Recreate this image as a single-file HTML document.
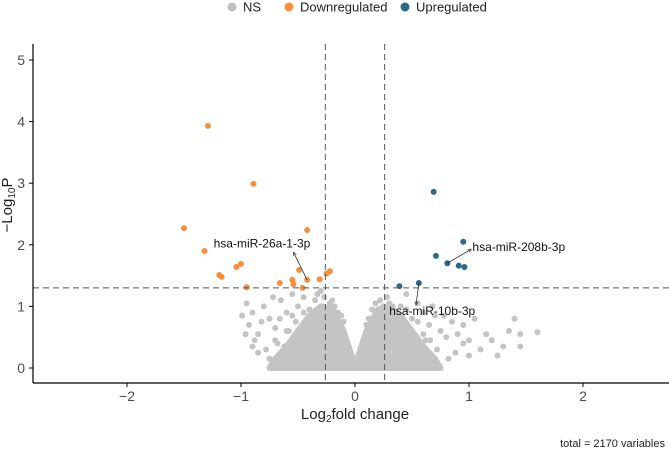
<!DOCTYPE html>
<html><head><meta charset="utf-8"><style>
html,body{margin:0;padding:0;background:#fff;}
svg{display:block;font-family:"Liberation Sans",Arial,sans-serif;}
</style></head><body>
<svg id="chart" width="669" height="452" viewBox="0 0 669 452">
<defs><marker id="ah" viewBox="0 0 10 10" refX="9" refY="5" markerWidth="5" markerHeight="5" orient="auto"><path d="M0,1 L9,5 L0,9" fill="none" stroke="#333" stroke-width="1.5"/></marker></defs>
<g id="legend">
 <g><circle cx="232" cy="7" r="4.5" fill="#c0c0c0"/><text x="243" y="11.5" font-size="13" fill="#222">NS</text></g>
 <g><circle cx="289" cy="7" r="4.5" fill="#f7903e"/><text x="300" y="11.5" font-size="13" fill="#222">Downregulated</text></g>
 <g><circle cx="405" cy="7" r="4.5" fill="#2b6a8a"/><text x="416" y="11.5" font-size="13" fill="#222">Upregulated</text></g>
</g>
<g id="density"></g>
<g id="points"></g>
<g id="refs"></g>
<g id="axes"></g>
<g id="labels"></g>
<text x="12" y="205" font-size="15" fill="#222" text-anchor="middle" transform="rotate(-90 12 205)">−Log<tspan font-size="10" dy="3">10</tspan><tspan dy="-3">P</tspan></text>
<text x="355" y="419" font-size="15" fill="#222" text-anchor="middle">Log<tspan font-size="10" dy="3">2</tspan><tspan dy="-3">fold change</tspan></text>
<text x="665" y="447" font-size="11" fill="#222" text-anchor="end">total = 2170 variables</text>
</svg>
<script>
const xTicks=[-2,-1,0,1,2];
const yTicks=[0,1,2,3,4,5];
const fcCut=0.26, pCut=1.3;
const downX=[-1.29,-0.89,-1.50,-0.42,-1.32,-1.00,-1.04,-1.19,-1.17,-0.49,-0.42,-0.66,-0.55,-0.54,-0.46,-0.95,-0.31,-0.25,-0.22];
const downY=[3.93,2.99,2.27,2.24,1.90,1.69,1.64,1.51,1.48,1.59,1.43,1.38,1.43,1.36,1.30,1.31,1.44,1.53,1.57];
const upX=[0.69,0.95,0.71,0.81,0.91,0.96,0.39,0.56];
const upY=[2.86,2.05,1.82,1.70,1.66,1.64,1.33,1.38];
const nsX=[-0.95,-0.9,-0.93,-0.85,-0.8,-0.75,-0.7,-0.78,-0.65,-0.6,-0.55,-0.5,-0.45,-0.4,-0.35,-0.3,-0.28,-0.85,-0.7,-0.62,-0.88,-0.72,-0.58,-0.66,-0.52,-0.48,-0.42,-0.38,-0.82,-0.96,-0.99,-0.9,-0.75,
0.3,0.35,0.4,0.45,0.5,0.55,0.6,0.65,0.7,0.75,0.8,0.85,0.9,0.95,1.0,1.05,1.1,1.15,1.2,1.25,1.3,1.4,1.45,1.6,1.45,1.35,0.42,0.52,0.62,0.68,0.72,0.88,0.95,1.0,0.58,0.48,0.78,0.82,0.38,0.44,
-0.25,-0.2,-0.15,0.15,0.2,0.25,-0.1,0.1,-0.33,-0.27,-0.22,-0.18,0.18,0.22,0.28,0.33,-0.45,-0.55,0.45,0.55,-0.6,0.6,-0.68,0.66,-0.12,0.12];
const nsY=[1.05,0.9,0.7,0.55,1.0,0.8,0.45,0.3,1.1,0.9,1.2,1.0,1.15,0.95,1.1,1.25,1.0,0.25,0.65,0.35,0.45,1.15,0.6,0.8,0.75,0.6,0.8,0.6,0.75,0.55,0.85,0.35,0.15,
1.05,0.9,1.0,1.2,0.8,1.05,0.9,0.7,0.85,0.6,0.5,0.75,0.55,0.4,0.45,0.8,0.3,0.55,0.45,0.2,0.35,0.8,0.55,0.58,0.35,0.6,0.65,0.5,0.45,1.0,0.3,0.25,0.7,0.2,0.3,0.35,0.85,0.15,0.75,0.45,
0.95,1.1,0.9,0.95,0.8,1.0,0.75,0.7,1.2,1.15,1.05,1.0,1.05,1.1,1.15,1.0,0.9,0.85,0.95,0.75,0.6,0.55,0.4,0.45,0.85,0.8];
const denseX=[-0.75,-0.7,-0.6,-0.5,-0.4,-0.3,-0.2,-0.1,-0.03,0,0.03,0.1,0.2,0.3,0.4,0.5,0.6,0.7,0.75];
const denseY=[0,0.15,0.35,0.6,0.85,1.0,0.95,0.6,0.2,0.08,0.2,0.6,0.95,1.0,0.85,0.6,0.35,0.15,0];
const labelText=["hsa-miR-26a-1-3p","hsa-miR-208b-3p","hsa-miR-10b-3p"];
const labelPtX=[-0.42,0.81,0.56], labelPtY=[1.43,1.70,1.38];
const arrowTipX=[-0.54,1.02,0.535], arrowTipY=[1.88,1.93,1.02];
const labelX=[-1.24,1.03,0.30], labelY=[1.96,1.90,0.86];

const X=v=>355+v*114, Y=v=>368-v*61.6;
const NS="http://www.w3.org/2000/svg";
function mk(t,a,p){const e=document.createElementNS(NS,t);for(const k in a)e.setAttribute(k,a[k]);p.appendChild(e);return e;}
const gd=document.getElementById('density'),gp=document.getElementById('points'),gr=document.getElementById('refs'),ga=document.getElementById('axes'),gl=document.getElementById('labels');
let d=denseX.map((v,i)=>(i?'L':'M')+X(v)+','+Y(denseY[i])).join(' ')+'Z';
const dp=mk('path',{d:d,fill:'#c4c4c4',stroke:'#c4c4c4','stroke-width':6,'stroke-linejoin':'round'},gd);


nsX.forEach((v,i)=>{const c=mk('circle',{cx:X(v),cy:Y(nsY[i]),r:3,fill:'#c4c4c4'},gp);

});
downX.forEach((v,i)=>{const c=mk('circle',{cx:X(v),cy:Y(downY[i]),r:3,fill:'#f7903e'},gp);

});
upX.forEach((v,i)=>{const c=mk('circle',{cx:X(v),cy:Y(upY[i]),r:3,fill:'#2b6a8a'},gp);

});
[-fcCut,fcCut].forEach(v=>{const l=mk('line',{x1:X(v),x2:X(v),y1:44,y2:383,stroke:'#555','stroke-dasharray':'6,4','stroke-width':1},gr);

});
const hl=mk('line',{x1:33,x2:669,y1:Y(pCut),y2:Y(pCut),stroke:'#555','stroke-dasharray':'6,4','stroke-width':1},gr);


const ya=mk('line',{x1:33,x2:33,y1:44,y2:383,stroke:'#000','stroke-width':1.2},ga);


const xa=mk('line',{x1:33,x2:669,y1:383,y2:383,stroke:'#000','stroke-width':1.2},ga);


yTicks.forEach(v=>{mk('line',{x1:29,x2:33,y1:Y(v),y2:Y(v),stroke:'#000'},ga);
const t=mk('text',{x:25,y:Y(v)+5,'font-size':14,fill:'#4d4d4d','text-anchor':'end'},ga);t.textContent=v;

});
xTicks.forEach(v=>{mk('line',{x1:X(v),x2:X(v),y1:383,y2:387,stroke:'#000'},ga);
const t=mk('text',{x:X(v),y:401,'font-size':14,fill:'#4d4d4d','text-anchor':'middle'},ga);t.textContent=v<0?'−'+(-v):v;

});
labelText.forEach((s,i)=>{
const a=mk('line',{x1:X(labelPtX[i]),y1:Y(labelPtY[i]),x2:X(arrowTipX[i]),y2:Y(arrowTipY[i]),stroke:'#333','stroke-width':0.8,'marker-end':'url(#ah)'},gl);


const t=mk('text',{x:X(labelX[i]),y:Y(labelY[i]),'font-size':12,fill:'#111'},gl);t.textContent=s;

});
</script>
</body></html>
